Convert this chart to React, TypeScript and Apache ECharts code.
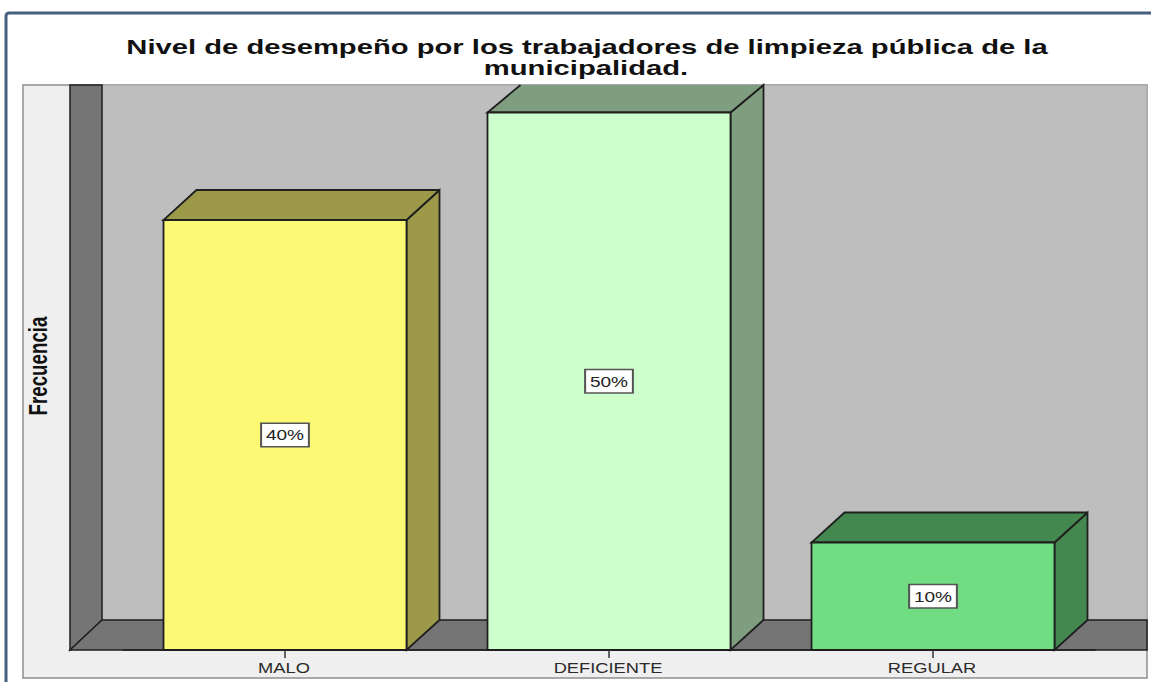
import React, { useEffect, useRef } from "react";
import * as echarts from "echarts";

const titleLines = ["Nivel de desempeño por los trabajadores de limpieza pública de la", "municipalidad."];
const yAxisName = "Frecuencia";
const categories = ["MALO", "DEFICIENTE", "REGULAR"];
const values = [40, 50, 10];
const frontColors = ["#fcf974", "#ccffcc", "#70dd83"];
const sideColors = ["#9c9a48", "#7f9e7f", "#44884f"];

const W = 1151;
const H = 682;
const depthX = 33;
const depthY = 30;
const edge = "#1f1f1f";
const sans = '"Liberation Sans", Arial, sans-serif';

export default function App() {
  const ref = useRef<HTMLDivElement>(null);
  useEffect(() => {
    document.body.style.margin = "0";
    const chart = echarts.init(ref.current!, undefined, { renderer: "svg" });
    const renderItem = (params: any, api: any) => {
      const i = api.value(0);
      const v = api.value(1);
      const [cx, top] = api.coord([i, v]);
      const [, base] = api.coord([i, 0]);
      const half = (api.size([1, 0])[0] * 0.75) / 2;
      const l = cx - half;
      const r = cx + half;
      const ceiling = params.coordSys.y;
      const back = Math.max(top - depthY, ceiling);
      const clipped = top - depthY < ceiling;
      const lineW = 1.8;
      const topEdges = clipped
        ? [[l + depthX, back], [l, top], [r, top], [r + depthX, back]]
        : [[r + depthX, back], [l + depthX, back], [l, top], [r, top], [r + depthX, back]];
      return {
        type: "group",
        children: [
          {
            type: "polygon",
            shape: { points: [[r, top], [r + depthX, back], [r + depthX, base - depthY], [r, base]] },
            style: { fill: sideColors[i], stroke: edge, lineWidth: lineW },
          },
          {
            type: "polygon",
            shape: { points: [[l, top], [l + depthX, back], [r + depthX, back], [r, top]] },
            style: { fill: sideColors[i] },
          },
          {
            type: "polyline",
            shape: { points: topEdges },
            style: { fill: "none", stroke: edge, lineWidth: lineW },
          },
          {
            type: "polygon",
            shape: { points: [[l, top], [r, top], [r, base], [l, base]] },
            style: { fill: frontColors[i], stroke: edge, lineWidth: lineW },
          },
          {
            type: "text",
            x: cx,
            y: (top + base) / 2,
            scaleX: 1.27,
            style: {
              text: v + "%",
              x: 0,
              y: 0,
              align: "center",
              verticalAlign: "middle",
              fill: "#222",
              font: "15px " + sans,
              backgroundColor: "#ffffff",
              borderColor: "#555",
              borderWidth: 1.6,
              padding: [4, 3, 3, 3],
            },
          },
          {
            type: "text",
            x: cx - 1,
            y: base + 18,
            scaleX: 1.22,
            style: {
              text: categories[i],
              x: 0,
              y: 0,
              align: "center",
              verticalAlign: "middle",
              fill: "#2a2a2a",
              font: "15px " + sans,
            },
          },
        ],
      };
    };
    chart.setOption({
      animation: false,
      backgroundColor: "#ffffff",
      grid: { left: 123, width: 972, top: 85, bottom: 32 },
      xAxis: {
        type: "category",
        data: categories,
        axisLine: { show: true, lineStyle: { color: edge, width: 1.5 } },
        axisTick: { show: true, alignWithLabel: true, length: 8, lineStyle: { color: "#333", width: 1.5 } },
        axisLabel: { show: false },
        z: 5,
      },
      yAxis: {
        type: "value",
        min: 0,
        max: 52.56,
        axisLine: { show: false },
        axisTick: { show: false },
        axisLabel: { show: false },
        splitLine: { show: false },
      },
      graphic: {
        elements: [
          {
            type: "rect",
            z: -10,
            shape: { x: 6, y: 13, width: 1180, height: 720, r: 3 },
            style: { fill: "#ffffff", stroke: "#47607f", lineWidth: 3 },
          },
          {
            type: "rect",
            z: -9,
            shape: { x: 23, y: 85, width: 1124, height: 593 },
            style: { fill: "#efefef", stroke: "#8f8f8f", lineWidth: 1.5 },
          },
          {
            type: "rect",
            z: -8,
            shape: { x: 102, y: 85, width: 1045, height: 535 },
            style: { fill: "#bebebe", stroke: "#a5a5a5", lineWidth: 1 },
          },
          {
            type: "polygon",
            z: -7,
            shape: { points: [[70, 85], [102, 85], [102, 620], [70, 650]] },
            style: { fill: "#757575", stroke: edge, lineWidth: 1.5 },
          },
          {
            type: "polygon",
            z: -7,
            shape: { points: [[70, 650], [102, 620], [1147, 620], [1147, 650]] },
            style: { fill: "#757575", stroke: edge, lineWidth: 1.5 },
          },
          {
            type: "text",
            x: 587,
            y: 47,
            scaleX: 1.46,
            style: {
              text: titleLines[0],
              x: 0,
              y: 0,
              align: "center",
              verticalAlign: "middle",
              fill: "#111",
              font: "bold 20px " + sans,
            },
          },
          {
            type: "text",
            x: 586,
            y: 68,
            scaleX: 1.46,
            style: {
              text: titleLines[1],
              x: 0,
              y: 0,
              align: "center",
              verticalAlign: "middle",
              fill: "#111",
              font: "bold 20px " + sans,
            },
          },
          {
            type: "text",
            x: 38,
            y: 366,
            rotation: Math.PI / 2,
            scaleX: 0.72,
            style: {
              text: yAxisName,
              x: 0,
              y: 0,
              align: "center",
              verticalAlign: "middle",
              fill: "#111",
              font: "bold 26px " + sans,
            },
          },
        ],
      },
      series: [
        {
          type: "custom",
          renderItem,
          data: values.map((v, i) => [i, v]),
          encode: { x: 0, y: 1 },
          z: 3,
        },
      ],
    });
    return () => chart.dispose();
  }, []);
  return <div ref={ref} style={{ width: W, height: H }} />;
}
